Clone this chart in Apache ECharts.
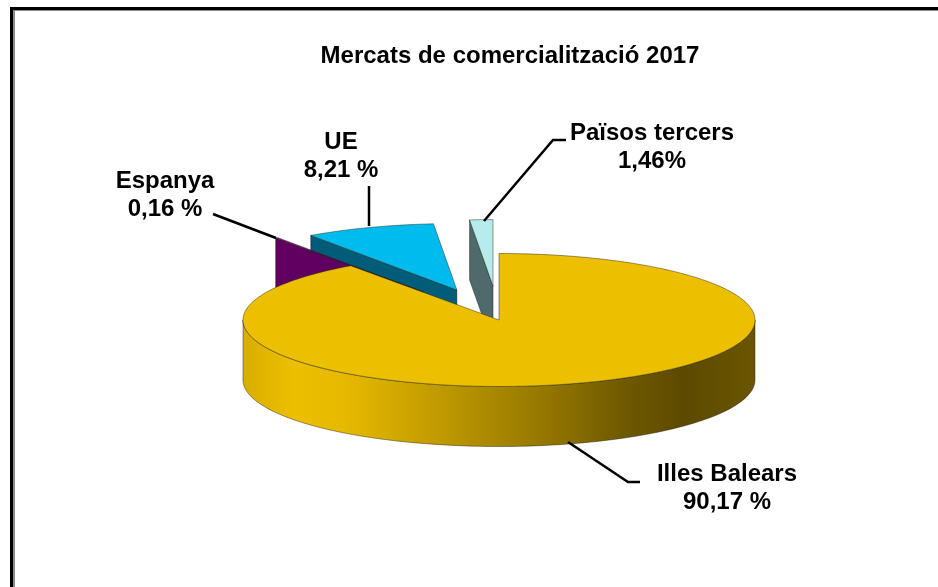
<!DOCTYPE html>
<html>
<head>
<meta charset="utf-8">
<style>
    html, body { margin: 0; padding: 0; background: #fff; }
    #chart { width: 938px; height: 587px; }
</style>
<script src="https://cdn.jsdelivr.net/npm/echarts@6/dist/echarts.min.js"></script>
</head>
<body>
<div id="chart"></div>
<script>
const categories = ['Illes Balears', 'Espanya', 'UE', 'Països tercers']
const shares = [90.17, 0.16, 8.21, 1.46]
const shareLabels = ['90,17 %', '0,16 %', '8,21 %', '1,46%']

// pie geometry (flattened 3d look)
const cx = 499, cy = 320, rx = 256, ry = 66.5, depth = 60
const explode = [0, 0.51, 0.48, 0.51]
const topColors = ['#ecbf00', '#8c008c', '#00bcee', '#b8ecec']
const wallColors = ['#ecbf00', '#600060', '#005c78', '#4f6a6a']
const paintOrder = [4, 2, 1, 3]

// label position and leader line for each slice
const labelPos = [[727, 488], [165, 195], [341, 156], [652, 147]]
const leaders = [
    [[568, 442], [628, 482], [640, 482]],
    [[276, 238], [213, 214]],
    [[369, 226], [369, 186]],
    [[484, 221], [553, 140], [566, 140]]
]

const total = shares.reduce((a, b) => a + b, 0)

function sliceRange(i) {
    let start = 0
    for (let k = 0; k < i; k++) start += shares[k] / total * 360
    return [start, start + shares[i] / total * 360]
}

// angle in degrees, clockwise from 12 o'clock
function rimPoint(ox, oy, deg, drop) {
    const a = deg * Math.PI / 180
    return [ox + rx * Math.sin(a), oy - ry * Math.cos(a) + (drop || 0)]
}

function arcPoints(ox, oy, from, to, drop) {
    const pts = []
    const steps = Math.max(2, Math.ceil(Math.abs(to - from) / 1.5))
    for (let s = 0; s <= steps; s++) {
        pts.push(rimPoint(ox, oy, from + (to - from) * s / steps, drop))
    }
    return pts
}

function renderSlice(params, api) {
    const i = params.dataIndex
    const [start, end] = sliceRange(i)
    const mid = (start + end) / 2 * Math.PI / 180
    const ox = cx + explode[i] * rx * Math.sin(mid)
    const oy = cy - explode[i] * ry * Math.cos(mid)
    const z2 = paintOrder[i] * 10
    const children = []
    const edge = 'rgba(30,30,10,0.75)'

    // cut face that looks towards the viewer
    if (start > 180) {
        const p = rimPoint(ox, oy, start)
        children.push({
            type: 'polygon',
            z2: z2,
            shape: { points: [[ox, oy], p, [p[0], p[1] + depth], [ox, oy + depth]] },
            style: { fill: wallColors[i], stroke: edge, lineWidth: 0.6 }
        })
    }

    // outer wall, only the front half of the rim shows
    const wallFrom = Math.max(start, 90), wallTo = Math.min(end, 270)
    if (wallTo > wallFrom) {
        const upper = arcPoints(ox, oy, wallFrom, wallTo)
        const lower = arcPoints(ox, oy, wallTo, wallFrom, depth)
        children.push({
            type: 'polygon',
            z2: z2 + 1,
            shape: { points: upper.concat(lower) },
            style: {
                fill: new echarts.graphic.LinearGradient(0, 0, 1, 0, [
                    { offset: 0, color: '#d9ad00' },
                    { offset: 0.1, color: '#ecbf00' },
                    { offset: 0.2, color: '#e6b900' },
                    { offset: 0.4, color: '#bc9700' },
                    { offset: 0.6, color: '#927500' },
                    { offset: 0.75, color: '#6e5800' },
                    { offset: 0.86, color: '#5c4a00' },
                    { offset: 1, color: '#6b5500' }
                ]),
                stroke: edge,
                lineWidth: 0.6
            }
        })
    }

    // top face
    children.push({
        type: 'polygon',
        z2: z2 + 2,
        shape: { points: [[ox, oy]].concat(arcPoints(ox, oy, start, end)) },
        style: { fill: topColors[i], stroke: edge, lineWidth: 0.6 }
    })

    // leader and label sit above every slice
    children.push({
        type: 'polyline',
        z2: 100,
        shape: { points: leaders[i] },
        style: { fill: 'none', stroke: '#000', lineWidth: 2.5 }
    })
    children.push({
        type: 'text',
        z2: 101,
        style: {
            x: labelPos[i][0],
            y: labelPos[i][1],
            text: categories[i] + '\n' + shareLabels[i],
            fill: '#000',
            font: 'bold 24px "Liberation Sans"',
            align: 'center',
            verticalAlign: 'middle',
            lineHeight: 28
        }
    })
    return { type: 'group', children: children }
}

const chart = echarts.init(document.getElementById('chart'))
chart.setOption({
    animation: false,
    backgroundColor: '#fff',
    title: {
        text: 'Mercats de comercialització 2017',
        left: 505,
        top: 39,
        textAlign: 'center',
        textStyle: { color: '#000', fontFamily: 'Liberation Sans', fontWeight: 'bold', fontSize: 24 }
    },
    // frame of the original picture, cut off at right and bottom
    graphic: [
        { type: 'rect', shape: { x: 13, y: 10, width: 925, height: 1 }, style: { fill: '#8a8a8a' } },
        { type: 'rect', shape: { x: 13, y: 10, width: 2, height: 577 }, style: { fill: '#8a8a8a' } },
        { type: 'rect', shape: { x: 10, y: 7, width: 928, height: 3 }, style: { fill: '#000' } },
        { type: 'rect', shape: { x: 10, y: 7, width: 3, height: 580 }, style: { fill: '#000' } }
    ],
    series: [{
        type: 'custom',
        coordinateSystem: 'none',
        silent: true,
        renderItem: renderSlice,
        data: shares
    }]
})
</script>
</body>
</html>
